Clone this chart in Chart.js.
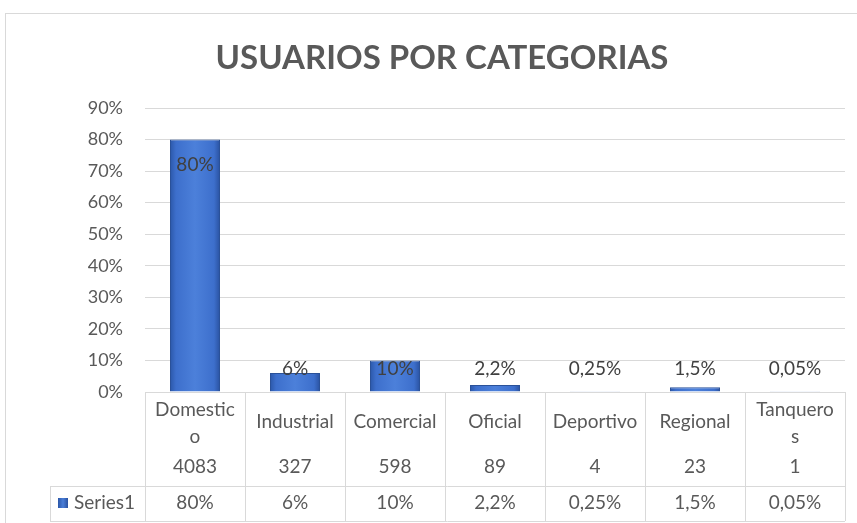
<!DOCTYPE html>
<html>
<head>
<meta charset="UTF-8" />
<title>Usuarios por categorias</title>
<script src="https://cdn.jsdelivr.net/npm/chart.js"></script>
<style>
  html, body { margin: 0; padding: 0; background: #fff; }
  .wrap { width: 857px; height: 523px; position: relative; }
</style>
</head>
<body>
<div class="wrap"><canvas id="chart" width="857" height="523"></canvas></div>
<script>
// data
const categories = ["Domestico", "Industrial", "Comercial", "Oficial", "Deportivo", "Regional", "Tanqueros"];
const categoryLines = [["Domestic", "o"], ["Industrial"], ["Comercial"], ["Oficial"], ["Deportivo"], ["Regional"], ["Tanquero", "s"]];
const userCounts = [4083, 327, 598, 89, 4, 23, 1];
const percentValues = [80, 6, 10, 2.2, 0.25, 1.5, 0.05];
const percentLabels = ["80%", "6%", "10%", "2,2%", "0,25%", "1,5%", "0,05%"];
const seriesName = "Series1";
const chartTitle = "USUARIOS POR CATEGORIAS";
const yTicks = [0, 10, 20, 30, 40, 50, 60, 70, 80, 90];

const FONT = "Lato, Calibri, sans-serif";
const TEXT = "#595959";
const LINE = "#d9d9d9";

// outer border of the chart and the title (the frame runs past the right edge,
// so the title is centred on the frame, not on the canvas)
const frame = {
  id: "frame",
  beforeDraw(chart) {
    const c = chart.ctx;
    c.save();
    c.strokeStyle = "#d9d9d9";
    c.lineWidth = 1;
    c.strokeRect(5.5, 13.5, 900, 600);
    c.font = "bold 33px " + FONT;
    c.fillStyle = TEXT;
    c.textAlign = "center";
    c.textBaseline = "middle";
    c.fillText(chartTitle, 442, 58);
    c.restore();
  }
};

// value labels on the bars
const barLabels = {
  id: "barLabels",
  afterDatasetsDraw(chart) {
    const c = chart.ctx;
    const meta = chart.getDatasetMeta(0);
    const y = chart.scales.y;
    c.save();
    c.font = "19px " + FONT;
    c.fillStyle = "#404040";
    c.textAlign = "center";
    c.textBaseline = "middle";
    meta.data.forEach((bar, i) => {
      const v = percentValues[i];
      const ly = v > 50 ? bar.y + 25 : y.getPixelForValue(7.3);
      c.fillText(percentLabels[i], bar.x, ly);
    });
    c.restore();
  }
};

// data table under the axis
const dataTable = {
  id: "dataTable",
  afterDraw(chart) {
    const c = chart.ctx;
    const area = chart.chartArea;
    const x = chart.scales.x;
    const top = area.bottom;
    const mid = top + 94;
    const bot = mid + 35;
    const legendLeft = 50;
    const half = (x.getPixelForValue(1) - x.getPixelForValue(0)) / 2;

    c.save();
    c.strokeStyle = LINE;
    c.lineWidth = 1;
    c.beginPath();
    c.moveTo(area.left, top + 0.5); c.lineTo(area.right, top + 0.5);
    c.moveTo(legendLeft, mid + 0.5); c.lineTo(area.right, mid + 0.5);
    c.moveTo(legendLeft, bot + 0.5); c.lineTo(area.right, bot + 0.5);
    c.moveTo(legendLeft + 0.5, mid); c.lineTo(legendLeft + 0.5, bot);
    for (let i = 0; i <= categories.length; i++) {
      const px = Math.round(x.getPixelForValue(i) - half) + 0.5;
      c.moveTo(px, top); c.lineTo(px, bot);
    }
    c.stroke();

    c.font = "19px " + FONT;
    c.fillStyle = TEXT;
    c.textAlign = "center";
    c.textBaseline = "middle";
    categoryLines.forEach((lines, i) => {
      const cx = x.getPixelForValue(i);
      if (lines.length === 1) {
        c.fillText(lines[0], cx, top + 30);
      } else {
        c.fillText(lines[0], cx, top + 18);
        c.fillText(lines[1], cx, top + 45);
      }
      c.fillText(String(userCounts[i]), cx, top + 75);
      c.fillText(percentLabels[i], cx, mid + 17);
    });

    // legend key
    const g = c.createLinearGradient(legendLeft + 8, 0, legendLeft + 18, 0);
    g.addColorStop(0, "#2b57a8");
    g.addColorStop(0.5, "#4a7ed8");
    g.addColorStop(1, "#2a52a0");
    c.fillStyle = g;
    c.fillRect(legendLeft + 8, mid + 12, 10, 10);
    c.textAlign = "left";
    c.fillStyle = TEXT;
    c.fillText(seriesName, legendLeft + 24, mid + 17);
    c.restore();
  }
};

function barFill(context) {
  const chart = context.chart;
  const x = chart.scales.x;
  const cx = x ? x.getPixelForValue(context.dataIndex) : NaN;
  if (!Number.isFinite(cx)) return "#3a6bc6";
  const g = chart.ctx.createLinearGradient(cx - 25, 0, cx + 25, 0);
  g.addColorStop(0, "#2b57a8");
  g.addColorStop(0.12, "#3d6fcc");
  g.addColorStop(0.5, "#4c80da");
  g.addColorStop(0.88, "#3d6fcc");
  g.addColorStop(1, "#2a52a0");
  return g;
}

new Chart(document.getElementById("chart"), {
  type: "bar",
  data: {
    labels: categories,
    datasets: [{
      label: seriesName,
      data: percentValues,
      backgroundColor: barFill,
      borderColor: "#2a5199",
      borderWidth: 1,
      barPercentage: 0.5,
      categoryPercentage: 1
    }]
  },
  options: {
    responsive: false,
    animation: false,
    layout: { padding: { left: 0, right: 12, top: 108, bottom: 123 } },
    plugins: {
      legend: { display: false },
      tooltip: { enabled: false },
      title: { display: false }
    },
    scales: {
      x: {
        grid: { display: false },
        border: { display: false },
        ticks: { display: false }
      },
      y: {
        min: 0,
        max: 90,
        afterBuildTicks(scale) { scale.ticks = yTicks.map(v => ({ value: v })); },
        afterFit(scale) { scale.width = 145; },
        grid: { color: LINE, drawTicks: false },
        border: { display: false },
        ticks: {
          padding: 22,
          color: TEXT,
          font: { family: FONT, size: 18 },
          callback: v => v + "%"
        }
      }
    }
  },
  plugins: [frame, barLabels, dataTable]
});
</script>
</body>
</html>
